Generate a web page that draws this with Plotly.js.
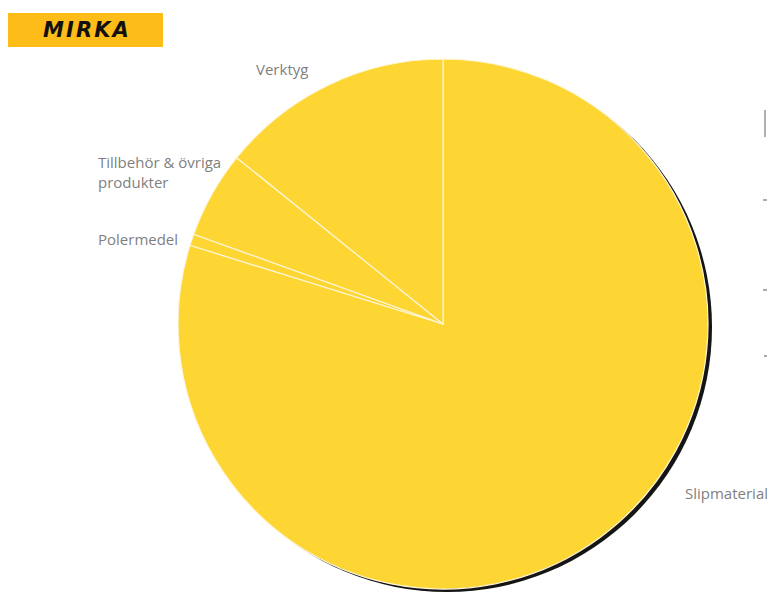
<!DOCTYPE html>
<html>
<head>
<meta charset="utf-8">
<script src="https://cdn.plot.ly/plotly-3.0.1.min.js"></script>
<style>html,body{margin:0;padding:0;background:#fff;}#chart{width:767px;height:592px;}</style>
</head>
<body>
<div id="chart"></div>
<script>
// Data (share of sales, %), in clockwise order starting at 12 o'clock
const categories = ["Slipmaterial", "Polermedel", "Tillbehör & övriga produkter", "Verktyg"];
const values = [79.8, 0.7, 5.3, 14.2];
const labelTexts = ["Slipmaterial", "Polermedel", "Tillbehör & övriga<br>produkter", "Verktyg"];

const W = 767, H = 592;
const px = x => x / W;
const py = y => 1 - y / H;

const sliceColor = "#FDD633";

const shadow = {
  type: "pie",
  values: [1],
  labels: ["shadow"],
  marker: { colors: ["rgba(8,8,8,0.95)"], line: { width: 0 } },
  textinfo: "none",
  hoverinfo: "skip",
  sort: false,
  showlegend: false,
  domain: { x: [182 / W, 712 / W], y: [0, 530 / H] }
};

const main = {
  type: "pie",
  values: values,
  labels: categories,
  sort: false,
  direction: "clockwise",
  rotation: 0,
  marker: {
    colors: categories.map(() => sliceColor),
    line: { color: "#FFF6D8", width: 1.2 }
  },
  textinfo: "none",
  hoverinfo: "label+percent",
  showlegend: false,
  domain: { x: [178 / W, 708 / W], y: [3 / H, 533 / H] }
};

const labelFont = { family: "Open Sans, sans-serif", size: 15, color: "#7F7F7F" };
const labelPos = [
  [683, 493], // Slipmaterial
  [96, 239],  // Polermedel
  [96, 172],  // Tillbehör
  [254, 69]   // Verktyg
];
const annotations = labelTexts.map((t, i) => ({
  text: t, xref: "paper", yref: "paper",
  x: px(labelPos[i][0]), y: py(labelPos[i][1]),
  xanchor: "left", yanchor: "middle", align: "left",
  showarrow: false, font: labelFont
}));
annotations.push({
  text: "<b><i>M\u200AI\u200AR\u200AK\u200AA</i></b>", xref: "paper", yref: "paper",
  x: px(86), y: py(30), xanchor: "center", yanchor: "middle",
  showarrow: false,
  font: { family: "DejaVu Sans, sans-serif", size: 21, color: "#111111" }
});

const layout = {
  width: W, height: H,
  margin: { l: 0, r: 0, t: 0, b: 0 },
  paper_bgcolor: "#FFFFFF",
  plot_bgcolor: "#FFFFFF",
  showlegend: false,
  annotations: annotations,
  shapes: [
    { type: "rect", xref: "paper", yref: "paper", x0: px(8), x1: px(163), y0: py(47), y1: py(13),
      fillcolor: "#FDBC17", line: { width: 0 }, layer: "below" },
    { type: "line", xref: "paper", yref: "paper", x0: px(765), x1: px(765), y0: py(110), y1: py(137),
      line: { color: "#B0B0B0", width: 2 } },
    { type: "line", xref: "paper", yref: "paper", x0: px(763), x1: px(767), y0: py(200), y1: py(200),
      line: { color: "#909090", width: 1.5 } },
    { type: "line", xref: "paper", yref: "paper", x0: px(763), x1: px(767), y0: py(290), y1: py(290),
      line: { color: "#909090", width: 1.5 } },
    { type: "line", xref: "paper", yref: "paper", x0: px(764), x1: px(767), y0: py(356), y1: py(356),
      line: { color: "#909090", width: 1.5 } }
  ]
};

Plotly.newPlot("chart", [shadow, main], layout, { displayModeBar: false, staticPlot: true });
</script>
</body>
</html>
